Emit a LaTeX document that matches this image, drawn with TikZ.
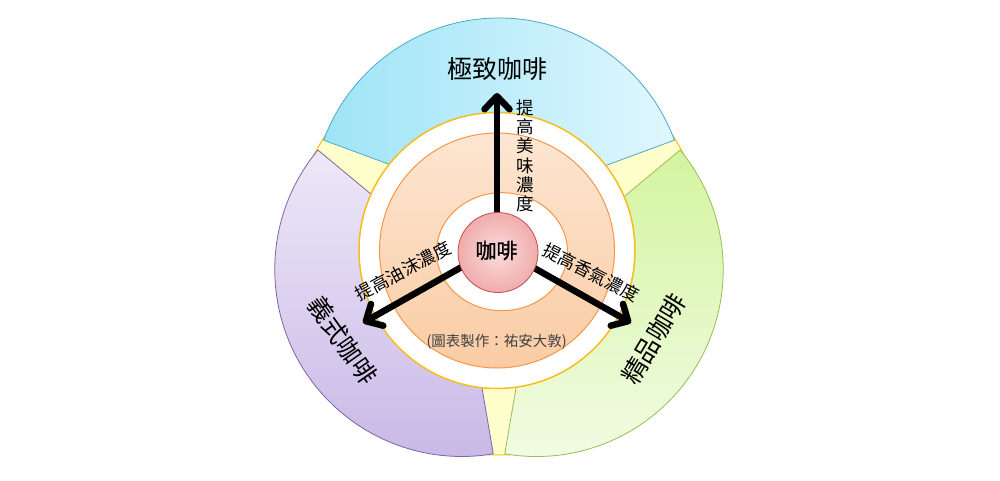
\documentclass[tikz,border=0pt]{standalone}
\usepackage{fontspec}
\setmainfont{Noto Sans CJK TC}
\newfontfamily\centerfont[FakeBold=1.2]{Noto Sans CJK TC}
\usetikzlibrary{arrows.meta}
\definecolor{yellowbg}{RGB}{255,255,204}
\definecolor{goldline}{RGB}{247,188,30}
\definecolor{blueL}{RGB}{158,228,247}
\definecolor{blueR}{RGB}{224,247,254}
\definecolor{blueline}{RGB}{75,170,200}
\definecolor{purpleT}{RGB}{238,232,248}
\definecolor{purpleB}{RGB}{200,184,230}
\definecolor{purpleline}{RGB}{128,100,162}
\definecolor{greenT}{RGB}{212,244,160}
\definecolor{greenB}{RGB}{242,252,230}
\definecolor{greenline}{RGB}{155,187,89}
\definecolor{orangeT}{RGB}{253,230,210}
\definecolor{orangeB}{RGB}{250,204,164}
\definecolor{orangeline}{RGB}{247,150,70}
\definecolor{pinkIn}{RGB}{251,220,220}
\definecolor{pinkOut}{RGB}{240,172,172}
\definecolor{pinkline}{RGB}{192,80,77}
\definecolor{creditgray}{RGB}{64,64,64}
\begin{document}
\begin{tikzpicture}[x=1pt,y=1pt,
  sector/.style={line width=0.8pt},
  thickarrow/.style={line width=6.5pt,-{Straight Barb[round,length=13pt,width=25pt]}},
  label/.style={inner sep=0pt,font=\fontsize{17.5}{19.2}\selectfont},
  big/.style={inner sep=0pt,font=\fontsize{25}{27}\selectfont}]
\useasboundingbox (0,0) rectangle (1000,480);
\coordinate (S) at (499,232);
\coordinate (O) at (497,229.5);
% yellow background circle
\path[fill=yellowbg,draw=goldline,line width=1pt] (S) circle[radius=207];
% sectors
\path[sector,left color=blueL,right color=blueR,draw=blueline]
  (499,275) -- ++(20.3:187) arc[start angle=20.3,end angle=159.7,radius=187] -- cycle;
\path[sector,top color=purpleT,bottom color=purpleB,draw=purpleline]
  (461.76,210.5) -- ++(140.3:187) arc[start angle=140.3,end angle=279.7,radius=187] -- cycle;
\path[sector,top color=greenT,bottom color=greenB,draw=greenline]
  (536.24,210.5) -- ++(260.3:187) arc[start angle=260.3,end angle=399.7,radius=187] -- cycle;
% inner rings
\path[fill=white,draw=goldline,line width=1.5pt] (O) circle[radius=138];
\path[top color=orangeT,bottom color=orangeB,draw=orangeline,line width=1pt] (O) circle[radius=117.5];
\path[fill=white,draw=orangeline,line width=1pt] (502,228.3) ellipse[x radius=65.5,y radius=59];
% arrows
\coordinate (hub) at (497,233);
\coordinate (tipU) at (497,387);
\coordinate (tipL) at (363,157.2);
\coordinate (tipR) at (631,157.2);
\draw[thickarrow] (hub) -- (tipU);
\draw[thickarrow] (hub) -- (tipL);
\draw[thickarrow] (hub) -- (tipR);
% centre
\node[circle,minimum size=80pt,inner sep=0pt,draw=pinkline,line width=0.8pt,
  inner color=pinkIn,outer color=pinkOut] (center) at (498,227.5) {};
\node[inner sep=0pt,font=\fontsize{21}{23}\centerfont] (centertext) at (496.5,229.5) {咖啡};
% texts
\node[big] (t1) at (497.5,411) {極致咖啡};
\node[big,rotate=-55] (t2) at (342.5,139.6) {義式咖啡};
\node[big,rotate=59] (t3) at (653.8,141.2) {精品咖啡};
\node[label,align=center] (lu) at (525,324.2) {提\\高\\美\\味\\濃\\度};
\node[label,rotate=28] (ll) at (403,209) {提高油沫濃度};
\node[label,rotate=-27] (lr) at (591,207.5) {提高香氣濃度};
\node[inner sep=0pt,font=\fontsize{14.5}{16}\selectfont,text=creditgray] (credit) at (496.7,138.3) {(圖表製作：祐安大敦)};
\end{tikzpicture}
\end{document}
